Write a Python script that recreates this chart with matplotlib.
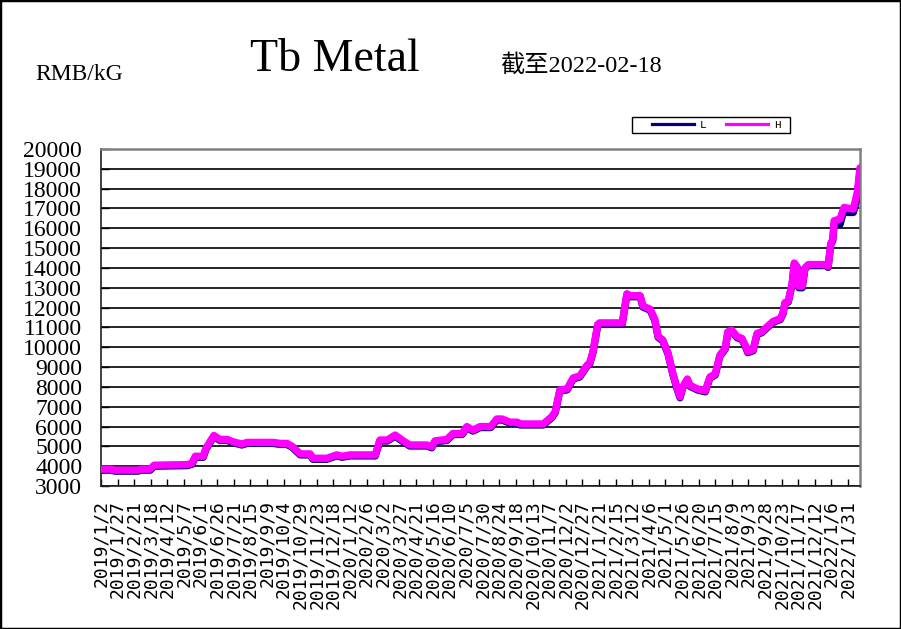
import matplotlib
matplotlib.use("Agg")
import matplotlib.pyplot as plt
from matplotlib.lines import Line2D
from matplotlib.patches import Rectangle
import pandas as pd

START = "2019-01-02"
END = "2022-02-18"

# x positions, in days after 2019-01-02
days = [0, 15, 21, 56, 60, 74, 80, 130, 137, 142, 154, 158, 170, 179, 190,
        199, 212, 220, 259, 270, 280, 288, 300, 315, 319, 340, 355, 363, 375,
        413, 420, 431, 443, 455, 465, 491, 498, 503, 521, 530, 544, 551, 560,
        571, 587, 596, 604, 616, 627, 631, 666, 679, 684, 691, 702, 711, 721,
        732, 736, 741, 748, 751, 785, 789, 792, 797, 812, 816, 827, 834, 839,
        846, 854, 861, 867, 872, 876, 883, 887, 898, 910, 917, 925, 932, 940,
        944, 950, 958, 965, 970, 974, 982, 988, 995, 1003, 1012, 1023, 1027,
        1030, 1035, 1041, 1044, 1048, 1051, 1056, 1060, 1065, 1093, 1095, 1099,
        1102, 1104, 1113, 1117, 1119, 1133, 1139, 1143]

high = [3850, 3850, 3800, 3800, 3850, 3850, 4050, 4080, 4150, 4500, 4500, 4900, 5550, 5350, 5350,
        5230, 5120, 5200, 5200, 5150, 5150, 5000, 4620, 4620, 4400, 4400, 4570, 4500, 4570,
        4570, 5320, 5320, 5570, 5280, 5070, 5070, 4980, 5280, 5350, 5650, 5650, 6000, 5820,
        6000, 6000, 6380, 6380, 6220, 6220, 6130, 6130, 6500, 6750, 7850, 7900, 8450, 8550,
        9100, 9200, 9800, 11150, 11230, 11230, 12080, 12700, 12600, 12600, 12080, 11920, 11400, 10550,
        10370, 9700, 8700, 8000, 7500, 8000, 8400, 8080, 7900, 7800, 8500, 8650, 9600, 9950,
        10780, 10860, 10530, 10450, 10120, 9780, 9870, 10700, 10780, 11030, 11300, 11450, 11730,
        12250, 12330, 13250, 14250, 14080, 13080, 13080, 14000, 14170, 14170, 14080, 15250,
        15420, 16380, 16470, 16880, 17050, 16970, 17830, 19050]

low = [3800, 3800, 3750, 3750, 3800, 3800, 4000, 4030, 4100, 4450, 4450, 4850, 5500, 5300, 5300,
       5180, 5070, 5150, 5150, 5100, 5100, 4950, 4570, 4570, 4350, 4350, 4520, 4450, 4520,
       4520, 5270, 5270, 5520, 5230, 5020, 5020, 4930, 5230, 5300, 5600, 5600, 5950, 5770,
       5950, 5950, 6330, 6330, 6170, 6170, 6080, 6080, 6450, 6700, 7800, 7850, 8400, 8500,
       9050, 9150, 9750, 11100, 11180, 11180, 12030, 12650, 12550, 12550, 12030, 11870, 11350, 10500,
       10320, 9650, 8650, 7950, 7450, 7950, 8350, 8030, 7850, 7750, 8450, 8600, 9550, 9900,
       10730, 10810, 10480, 10400, 10070, 9730, 9820, 10650, 10730, 10980, 11250, 11400, 11680,
       12200, 12280, 13200, 14200, 14030, 13000, 13000, 13950, 14120, 14120, 14030, 15200,
       15370, 16200, 16200, 16700, 16800, 16800, 17600, 18900]

tick_labels = ["2019/1/2", "2019/1/27", "2019/2/21", "2019/3/18", "2019/4/12", "2019/5/7",
               "2019/6/1", "2019/6/26", "2019/7/21", "2019/8/15", "2019/9/9", "2019/10/4",
               "2019/10/29", "2019/11/23", "2019/12/18", "2020/1/12", "2020/2/6", "2020/3/2",
               "2020/3/27", "2020/4/21", "2020/5/16", "2020/6/10", "2020/7/5", "2020/7/30",
               "2020/8/24", "2020/9/18", "2020/10/13", "2020/11/7", "2020/12/2", "2020/12/27",
               "2021/1/21", "2021/2/15", "2021/3/12", "2021/4/6", "2021/5/1", "2021/5/26",
               "2021/6/20", "2021/7/15", "2021/8/9", "2021/9/3", "2021/9/28", "2021/10/23",
               "2021/11/17", "2021/12/12", "2022/1/6", "2022/1/31"]

t0 = pd.Timestamp(START)
dates = t0 + pd.to_timedelta(days, unit="D")
tick_dates = pd.to_datetime(tick_labels, format="%Y/%m/%d")

fig = plt.figure(figsize=(9.01, 6.29), dpi=100)
ax = fig.add_axes([101 / 901, 1 - 486 / 629, 759 / 901, 337 / 629])

ax.plot(dates, low, color="#000080", lw=5.3, solid_joinstyle="round", solid_capstyle="round", zorder=3)
ax.plot(dates, high, color="#FF00FF", lw=5.3, solid_joinstyle="round", solid_capstyle="round", zorder=4)

ax.set_xlim(t0, pd.Timestamp(END))
ax.set_ylim(3000, 20000)
ax.set_yticks(range(3000, 20001, 1000))
ax.yaxis.grid(True, color="black", lw=1.2)
ax.set_axisbelow(True)

ax.set_xticks(tick_dates)
ax.set_xticklabels(tick_labels, rotation=90, family="DejaVu Sans Mono", fontsize=13, va="top")
ax.tick_params(axis="x", direction="in", length=5, width=1, pad=10)
ax.tick_params(axis="y", direction="in", length=6, width=1, pad=13.5, labelsize=17)
for lab in ax.get_yticklabels():
    lab.set_family("Liberation Serif")

for side in ["top", "right"]:
    ax.spines[side].set_color("#808080")
    ax.spines[side].set_linewidth(1.8)
for side in ["left", "bottom"]:
    ax.spines[side].set_color("#202020")
    ax.spines[side].set_linewidth(1.2)

# titles
fig.text(35 / 901, 1 - 80 / 629, "RMB/kG", family="Liberation Serif", fontsize=17, va="baseline")
fig.text(250 / 901, 1 - 71 / 629, "Tb Metal", family="Liberation Serif", fontsize=33, va="baseline")
fig.text(500 / 901, 1 - 72 / 629, "截至2022-02-18", family=["Liberation Serif", "Noto Sans CJK SC"],
         fontsize=17.5, va="baseline")

# legend, with its own box
fig.add_artist(Rectangle((632 / 901, 1 - 133 / 629), 158 / 901, 16 / 629,
                         transform=fig.transFigure, fill=False, ec="black", lw=1))
handles = [Line2D([], [], color="#000080", lw=2.3), Line2D([], [], color="#FF00FF", lw=2.3)]
fig.legend(handles, ["L", "H"], ncol=2, frameon=False, loc="center",
           bbox_to_anchor=(716 / 901, 1 - 125 / 629), bbox_transform=fig.transFigure,
           handlelength=3.8, handletextpad=0.5, columnspacing=1.8,
           prop={"family": "Liberation Mono", "size": 8})

# outer chart border
fig.add_artist(Rectangle((0, 0), 1, 1, transform=fig.transFigure, fill=False, ec="black", lw=2.5))

fig.savefig("out.png", dpi=100)
